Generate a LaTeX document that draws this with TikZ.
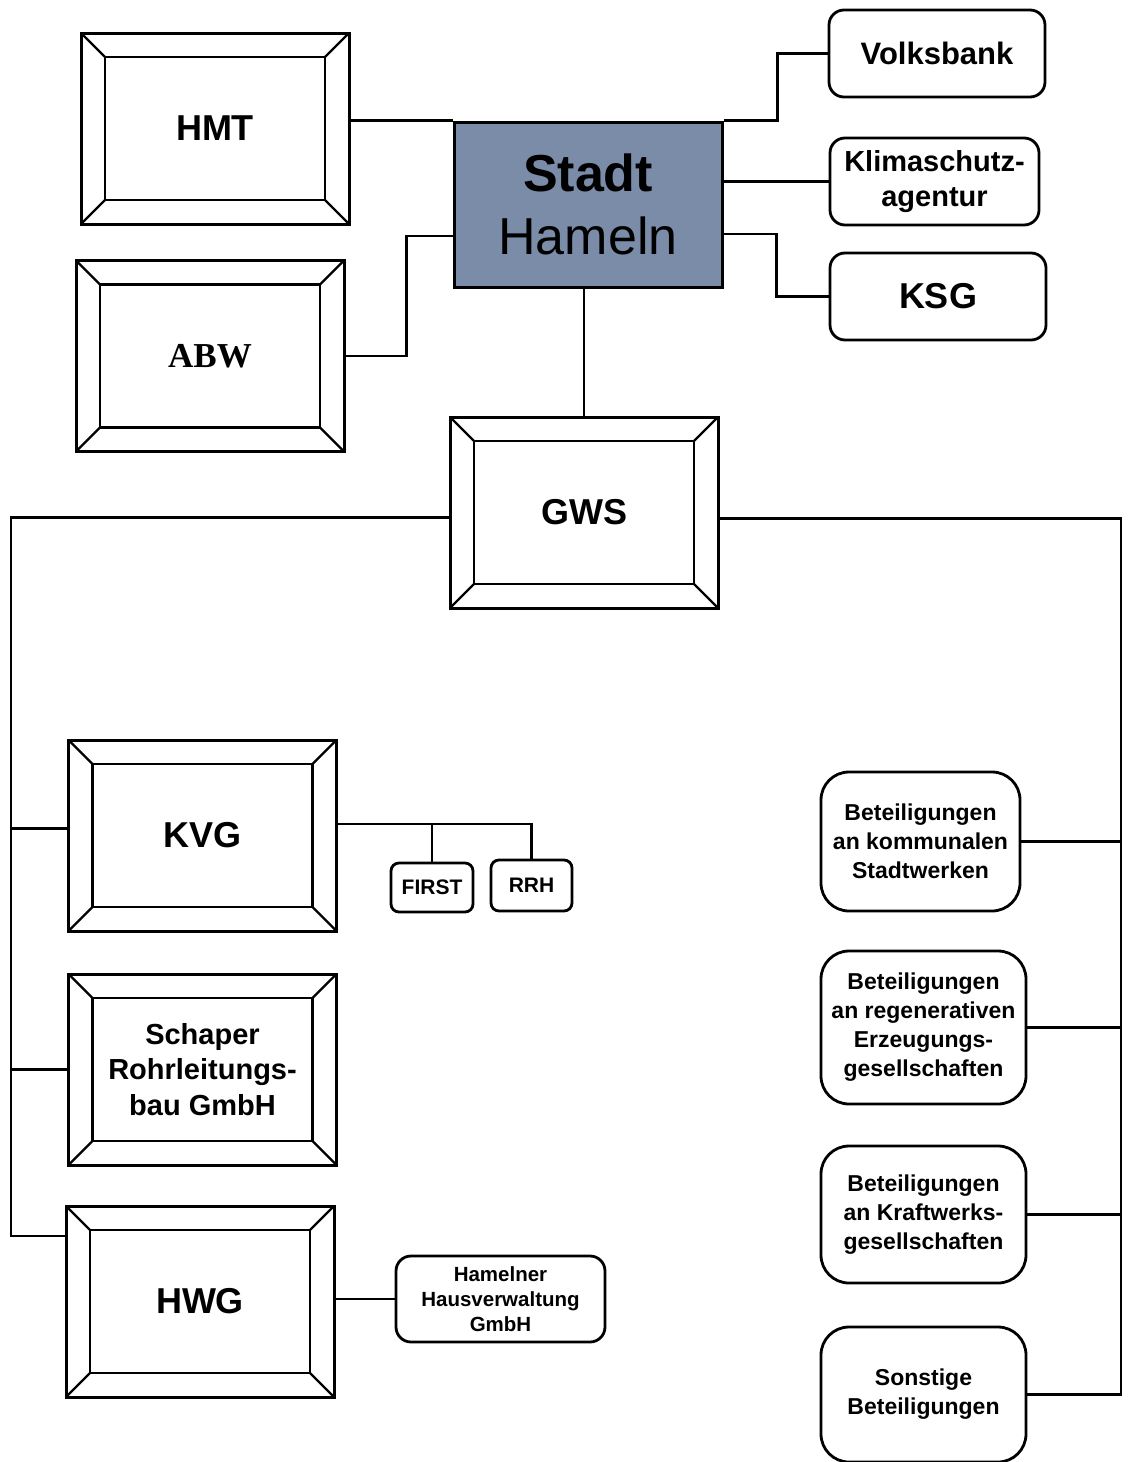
\documentclass[tikz,border=0pt]{standalone}
\usepackage{fontspec}
\setmainfont{Liberation Sans}
\newfontfamily\abwfont{Liberation Serif}
\usepackage{xcolor}
\usetikzlibrary{positioning}
\definecolor{stadtblue}{HTML}{7A8CA8}

\begin{document}
\begin{tikzpicture}[
      x=1pt, y=-1pt,
      node distance=40pt and 40pt,
      bevel/.style={draw, line width=3pt, minimum width=268pt,
        minimum height=191pt, align=center,
        font=\fontsize{36}{40}\selectfont\bfseries,
        path picture={
          \draw[line width=2.2pt]
            ([shift={(24pt,-24pt)}]path picture bounding box.north west)
            rectangle ([shift={(-24pt,24pt)}]path picture bounding box.south east);
          \draw[line width=2.2pt]
            (path picture bounding box.north west) -- ++(24pt,-24pt)
            (path picture bounding box.north east) -- ++(-24pt,-24pt)
            (path picture bounding box.south west) -- ++(24pt,24pt)
            (path picture bounding box.south east) -- ++(-24pt,24pt);
        }},
      rbox/.style={draw, line width=2.8pt, rounded corners=15pt,
        align=center, inner sep=2pt},
      beteil/.style={rbox, rounded corners=28pt, minimum width=205pt,
        font=\fontsize{23}{29}\selectfont\bfseries},
      conn/.style={line width=2.8pt}
    ]
    \useasboundingbox (0,0) rectangle (1132,1462);

    \node[bevel] (hmt) at (215,128.5) {HMT};
    \node[bevel, font=\fontsize{35}{40}\selectfont\abwfont\bfseries] (abw) at (210,356) {ABW};
    \node[draw, line width=3pt, fill=stadtblue, minimum width=268pt,
      minimum height=165pt, align=center, font=\fontsize{52}{63}\selectfont]
      (stadt) at (588,204.5) {\textbf{Stadt}\\Hameln};

    \node[rbox, minimum width=216pt, minimum height=87pt,
      font=\fontsize{31}{36}\selectfont\bfseries] (volksbank) at (937,53.5) {Volksbank};
    \node[rbox, minimum width=209pt, minimum height=87pt,
      font=\fontsize{29}{35}\selectfont\bfseries] (klima) at (934.5,181.5) {Klimaschutz-\\agentur};
    \node[rbox, minimum width=216pt, minimum height=87pt,
      font=\fontsize{36}{40}\selectfont\bfseries] (ksg) at (938,296.5) {KSG};

    \node[bevel] (gws) at (584,512.5) {GWS};

    \node[bevel] (kvg) at (202.5,835.5) {KVG};
    \node[bevel, below=40pt of kvg, font=\fontsize{29}{35.5}\selectfont\bfseries]
      (schaper) {Schaper\\Rohrleitungs-\\bau GmbH};
    \node[bevel] (hwg) at (200,1301.5) {HWG};

    \node[rbox, rounded corners=8pt, minimum width=82pt, minimum height=49pt,
      font=\fontsize{21}{25}\selectfont\bfseries] (first) at (432,887.5) {FIRST};
    \node[rbox, rounded corners=8pt, minimum width=81pt, minimum height=51pt,
      font=\fontsize{21}{25}\selectfont\bfseries] (rrh) at (531.5,885.5) {RRH};
    \node[rbox, minimum width=209pt, minimum height=86pt,
      font=\fontsize{20.5}{25}\selectfont\bfseries] (hhv) at (500.5,1299)
      {Hamelner\\Hausverwaltung\\GmbH};

    \node[beteil, minimum width=199pt, minimum height=139pt] (bkom) at (920.5,841.5)
      {Beteiligungen\\an kommunalen\\Stadtwerken};
    \node[beteil, minimum height=153pt] (breg) at (923.5,1027.5)
      {Beteiligungen\\an regenerativen\\Erzeugungs-\\gesellschaften};
    \node[beteil, minimum height=137pt] (bkw) at (923.5,1214.5)
      {Beteiligungen\\an Kraftwerks-\\gesellschaften};
    \node[beteil, minimum height=135pt] (bson) at (923.5,1394.5)
      {Sonstige\\Beteiligungen};

    \coordinate (lbus) at (11,1236);
    \coordinate (rbus) at (1121,1396);
    \coordinate (kbus) at (533,824);

    \draw[conn] (hmt.east |- stadt.north west) -- (stadt.north west);
    \draw[conn] (abw.east) -- ++(61,0) |- ([yshift=-31.5pt]stadt.west);
    \draw[conn] (stadt.north east) -- ++(54,0) |- (volksbank.west);
    \draw[conn] (stadt.east |- klima.west) -- (klima.west);
    \draw[conn] ([yshift=-29.5pt]stadt.east) -- ++(53,0) |- (ksg.west);
    \draw[conn] (gws.north |- stadt.south) -- (gws.north);

    \draw[conn] ([yshift=-5pt]gws.west) -| (lbus) -- (lbus -| hwg.west);
    \draw[conn] ([yshift=7pt]kvg.west) -- ([yshift=7pt]kvg.west -| lbus);
    \draw[conn] (schaper.west) -- (schaper.west -| lbus);
    \draw[conn] ([yshift=-6pt]gws.east) -| (rbus);
    \foreach \n in {bkom, breg, bkw, bson}
      \draw[conn] (\n.east) -- (\n.east -| rbus);

    \draw[conn] (kvg.east |- kbus) -- (kbus);
    \draw[conn] (first.north) -- (first.north |- kbus);
    \draw[conn] (rrh.north) -- (rrh.north |- kbus);
    \draw[conn] (hhv.west -| hwg.east) -- (hhv.west);
  \end{tikzpicture}
\end{document}
